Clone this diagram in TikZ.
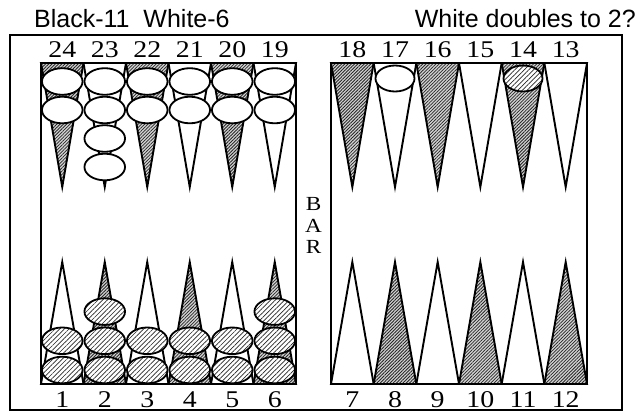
\documentclass[tikz,border=0pt]{standalone}
\usepackage{fontspec}
\setmainfont{Liberation Serif}
\newfontfamily\titlefont{Liberation Sans}
\usetikzlibrary{patterns.meta}
\newcommand{\widetxt}[1]{\scalebox{1.16}[1]{#1}}
\begin{document}
\begin{tikzpicture}[x=1pt,y=-1pt,
  ptline/.style={draw=black,line width=1.9pt,line join=miter},
  shadedpt/.style={ptline,preaction={fill=gray!35},pattern={Lines[angle=45,distance=2.3pt,line width=0.8pt]},pattern color=black!85},
  whitept/.style={ptline,fill=white},
  wchk/.style={draw=black,line width=1.8pt,fill=white},
  bchk/.style={draw=black,line width=1.8pt,preaction={fill=white},pattern={Lines[angle=45,distance=3.3pt,line width=0.7pt]},pattern color=black!85},
  numlbl/.style={font=\fontsize{24}{24}\selectfont,inner sep=0pt,anchor=base},
  titlelbl/.style={font=\titlefont\fontsize{25}{25}\selectfont,inner sep=0pt},
  barlbl/.style={font=\fontsize{20}{20}\selectfont,inner sep=0pt},
  board/.style={draw=black,line width=2.4pt},
  frame/.style={draw=black,line width=1.8pt}]
\useasboundingbox (0,0) rectangle (643,412);
% outer frame
\draw[frame] (10,35) rectangle (622,410);
% titles
\node[titlelbl,anchor=base west] (t1) at (34,28) {Black-11\ \ White-6};
\node[titlelbl,anchor=base east] (t2) at (636,28) {White doubles to 2?};
% points
\foreach \i in {0,...,5}{
  \pgfmathsetmacro{\xa}{41+\i*42.5}
  \pgfmathsetmacro{\xb}{41+(\i+1)*42.5}
  \pgfmathsetmacro{\xc}{41+(\i+0.5)*42.5}
  \pgfmathtruncatemacro{\odd}{mod(\i,2)}
  \ifnum\odd=0
    \draw[shadedpt] (\xa,63) -- (\xb,63) -- (\xc,187) -- cycle;
    \draw[whitept] (\xa,384) -- (\xb,384) -- (\xc,262) -- cycle;
  \else
    \draw[whitept] (\xa,63) -- (\xb,63) -- (\xc,187) -- cycle;
    \draw[shadedpt] (\xa,384) -- (\xb,384) -- (\xc,262) -- cycle;
  \fi
  \pgfmathtruncatemacro{\nu}{24-\i}
  \pgfmathtruncatemacro{\nl}{1+\i}
  \node[numlbl] (nu\nu) at (\xc,58) {\widetxt{\nu}};
  \node[numlbl] (nl\nl) at (\xc,407) {\widetxt{\nl}};
  \pgfmathsetmacro{\ya}{331+\i*42.67}
  \pgfmathsetmacro{\yb}{331+(\i+1)*42.67}
  \pgfmathsetmacro{\yc}{331+(\i+0.5)*42.67}
  \ifnum\odd=0
    \draw[shadedpt] (\ya,63) -- (\yb,63) -- (\yc,187) -- cycle;
    \draw[whitept] (\ya,384) -- (\yb,384) -- (\yc,262) -- cycle;
  \else
    \draw[whitept] (\ya,63) -- (\yb,63) -- (\yc,187) -- cycle;
    \draw[shadedpt] (\ya,384) -- (\yb,384) -- (\yc,262) -- cycle;
  \fi
  \pgfmathtruncatemacro{\mu}{18-\i}
  \pgfmathtruncatemacro{\ml}{7+\i}
  \node[numlbl] (nu\mu) at (\yc,58) {\widetxt{\mu}};
  \node[numlbl] (nl\ml) at (\yc,407) {\widetxt{\ml}};
}
% white checkers on upper left
\foreach \i/\n in {0/2,1/4,2/2,3/2,4/2,5/2}{
  \pgfmathsetmacro{\xc}{41+(\i+0.5)*42.5}
  \foreach \k in {1,...,\n}{
    \draw[wchk] (\xc,{81.5+(\k-1)*28.5}) ellipse [x radius=20.3pt,y radius=13.3pt];
  }
}
% checkers on upper right
\draw[wchk] ({331+1.5*42.67},78.5) ellipse [x radius=19.5pt,y radius=13pt];
\draw[bchk] ({331+4.5*42.67},78.5) ellipse [x radius=19.5pt,y radius=13pt];
% black checkers lower left
\foreach \i/\n in {0/2,1/3,2/2,3/2,4/2,5/3}{
  \pgfmathsetmacro{\xc}{41+(\i+0.5)*42.5}
  \foreach \k in {1,...,\n}{
    \draw[bchk] (\xc,{370-(\k-1)*29.2}) ellipse [x radius=20.3pt,y radius=13.3pt];
  }
}
% boards
\draw[board] (41,63) rectangle (296,384);
\draw[board] (331,63) rectangle (587,384);
% BAR
\node[barlbl] (bb) at (313.5,203.5) {\widetxt{B}};
\node[barlbl] (ba) at (313.5,226) {\widetxt{A}};
\node[barlbl] (br) at (313.5,247) {\widetxt{R}};
\end{tikzpicture}
\end{document}
